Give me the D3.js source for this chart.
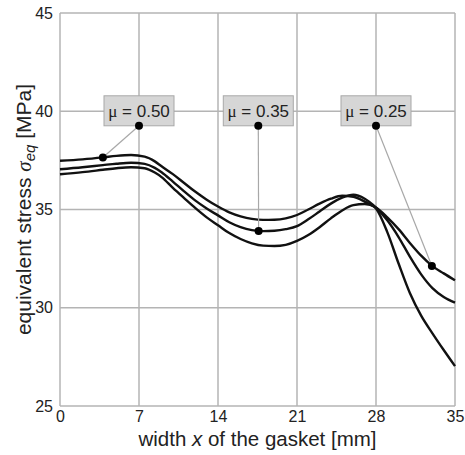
<!DOCTYPE html>
<html>
<head>
<meta charset="utf-8">
<script src="https://cdnjs.cloudflare.com/ajax/libs/d3/7.8.5/d3.min.js"></script>
<style>
  body { margin: 0; background: #fff; }
  text { font-family: "Liberation Sans", Arial, sans-serif; fill: #222; }
</style>
</head>
<body>
<div id="chart"></div>
<script>
// values
var xVals   = [0, 2, 3.8, 5, 6.3, 7.5, 8.4, 9, 10, 11, 12, 13, 14, 15, 16, 17, 18, 19, 20, 21, 22, 23, 24, 25, 26, 27, 28, 29, 30, 31, 32, 33, 34, 35];
var mu050   = [37.48, 37.55, 37.65, 37.73, 37.77, 37.69, 37.45, 37.2, 36.8, 36.35, 35.9, 35.5, 35.15, 34.85, 34.65, 34.52, 34.47, 34.48, 34.55, 34.72, 35.0, 35.3, 35.55, 35.7, 35.65, 35.4, 35.05, 33.85, 32.25, 30.75, 29.6, 28.7, 27.85, 27.03];
var mu035   = [37.05, 37.15, 37.26, 37.33, 37.38, 37.32, 37.12, 36.9, 36.42, 35.92, 35.45, 35.05, 34.7, 34.35, 34.1, 33.95, 33.9, 33.92, 34.0, 34.15, 34.5, 34.9, 35.3, 35.6, 35.75, 35.55, 35.1, 34.45, 33.6, 32.6, 31.7, 31.0, 30.55, 30.26];
var mu025   = [36.79, 36.9, 37.02, 37.1, 37.15, 37.1, 36.88, 36.65, 36.1, 35.58, 35.07, 34.6, 34.2, 33.8, 33.5, 33.28, 33.16, 33.14, 33.2, 33.4, 33.7, 34.1, 34.55, 34.95, 35.22, 35.28, 35.1, 34.6, 34.0, 33.3, 32.65, 32.12, 31.75, 31.4];

var labels  = ["\u03bc = 0.50", "\u03bc = 0.35", "\u03bc = 0.25"];
var labelX  = [7, 17.57, 28];
var labelY  = [39.26, 39.26, 39.26];
var pointX  = [3.8, 17.6, 32.95];
var pointY  = [37.65, 33.9, 32.12];

var xTicks = [0, 7, 14, 21, 28, 35];
var yTicks = [25, 30, 35, 40, 45];

var margin = { top: 13, left: 60, right: 10, bottom: 49 },
    width = 465 - margin.left - margin.right,
    height = 455 - margin.top - margin.bottom;

var svg = d3.select("#chart")
  .append("svg")
  .attr("width", 465)
  .attr("height", 455)
  .append("g")
  .attr("transform", "translate(" + margin.left + "," + margin.top + ")");

var xScale = d3.scaleLinear().domain([0, 35]).range([0, width]);
var yScale = d3.scaleLinear().domain([25, 45]).range([height, 0]);

// grid
svg.selectAll(".vgrid")
  .data(xTicks)
  .enter().append("line")
  .attr("x1", function(d) { return xScale(d); })
  .attr("x2", function(d) { return xScale(d); })
  .attr("y1", 0)
  .attr("y2", height)
  .attr("stroke", "#b4b4b4")
  .attr("stroke-width", 1.5);

svg.selectAll(".hgrid")
  .data(yTicks)
  .enter().append("line")
  .attr("x1", 0)
  .attr("x2", width)
  .attr("y1", function(d) { return yScale(d); })
  .attr("y2", function(d) { return yScale(d); })
  .attr("stroke", "#b4b4b4")
  .attr("stroke-width", 1.5);

// axes (text only)
var xAxis = svg.append("g")
  .attr("transform", "translate(0," + height + ")")
  .call(d3.axisBottom(xScale).tickValues(xTicks).tickSize(0).tickPadding(5));
var yAxis = svg.append("g")
  .call(d3.axisLeft(yScale).tickValues(yTicks).tickSize(0).tickPadding(7));
[xAxis, yAxis].forEach(function(a) {
  a.select(".domain").remove();
  a.selectAll("text")
    .attr("font-size", 16)
    .attr("font-family", "Liberation Sans, Arial, sans-serif")
    .attr("fill", "#222");
});

// curves
var line = d3.line()
  .x(function(d) { return xScale(d[0]); })
  .y(function(d) { return yScale(d[1]); })
  .curve(d3.curveMonotoneX);

[mu050, mu035, mu025].forEach(function(series) {
  svg.append("path")
    .datum(xVals.map(function(x, i) { return [x, series[i]]; }))
    .attr("d", line)
    .attr("fill", "none")
    .attr("stroke", "#111")
    .attr("stroke-width", 2.4);
});

// leader lines, boxes, dots
labels.forEach(function(t, i) {
  var ax = xScale(labelX[i]), ay = yScale(labelY[i]);
  svg.append("line")
    .attr("x1", ax).attr("y1", ay)
    .attr("x2", xScale(pointX[i])).attr("y2", yScale(pointY[i]))
    .attr("stroke", "#a8a8a8")
    .attr("stroke-width", 1.2);
  svg.append("rect")
    .attr("x", ax - 35)
    .attr("y", ay - 30)
    .attr("width", 70)
    .attr("height", 30)
    .attr("fill", "#d6d6d6")
    .attr("stroke", "#a8a8a8")
    .attr("stroke-width", 1);
  var tx = svg.append("text")
    .attr("x", ax)
    .attr("y", ay - 9)
    .attr("text-anchor", "middle")
    .attr("font-size", 17);
  tx.append("tspan").attr("font-family", "Liberation Serif, serif").text(t.slice(0, 1));
  tx.append("tspan").text(t.slice(1));
  svg.append("circle")
    .attr("cx", ax).attr("cy", ay).attr("r", 4).attr("fill", "#000");
  svg.append("circle")
    .attr("cx", xScale(pointX[i])).attr("cy", yScale(pointY[i])).attr("r", 4).attr("fill", "#000");
});

// axis titles
var xt = svg.append("text")
  .attr("x", width / 2)
  .attr("y", height + 40)
  .attr("text-anchor", "middle")
  .attr("font-size", 20.5);
xt.append("tspan").text("width ");
xt.append("tspan").attr("font-style", "italic").text("x");
xt.append("tspan").text(" of the gasket [mm]");

var yt = svg.append("text")
  .attr("transform", "translate(" + (-29) + "," + (height / 2) + ") rotate(-90)")
  .attr("text-anchor", "middle")
  .attr("font-size", 21);
yt.append("tspan").text("equivalent stress ");
yt.append("tspan").attr("font-style", "italic").attr("font-family", "Liberation Serif, serif").text("\u03c3");
yt.append("tspan").attr("font-style", "italic").attr("font-size", 15).attr("dy", 4).text("eq");
yt.append("tspan").attr("dy", -4).text(" [MPa]");
</script>
</body>
</html>
